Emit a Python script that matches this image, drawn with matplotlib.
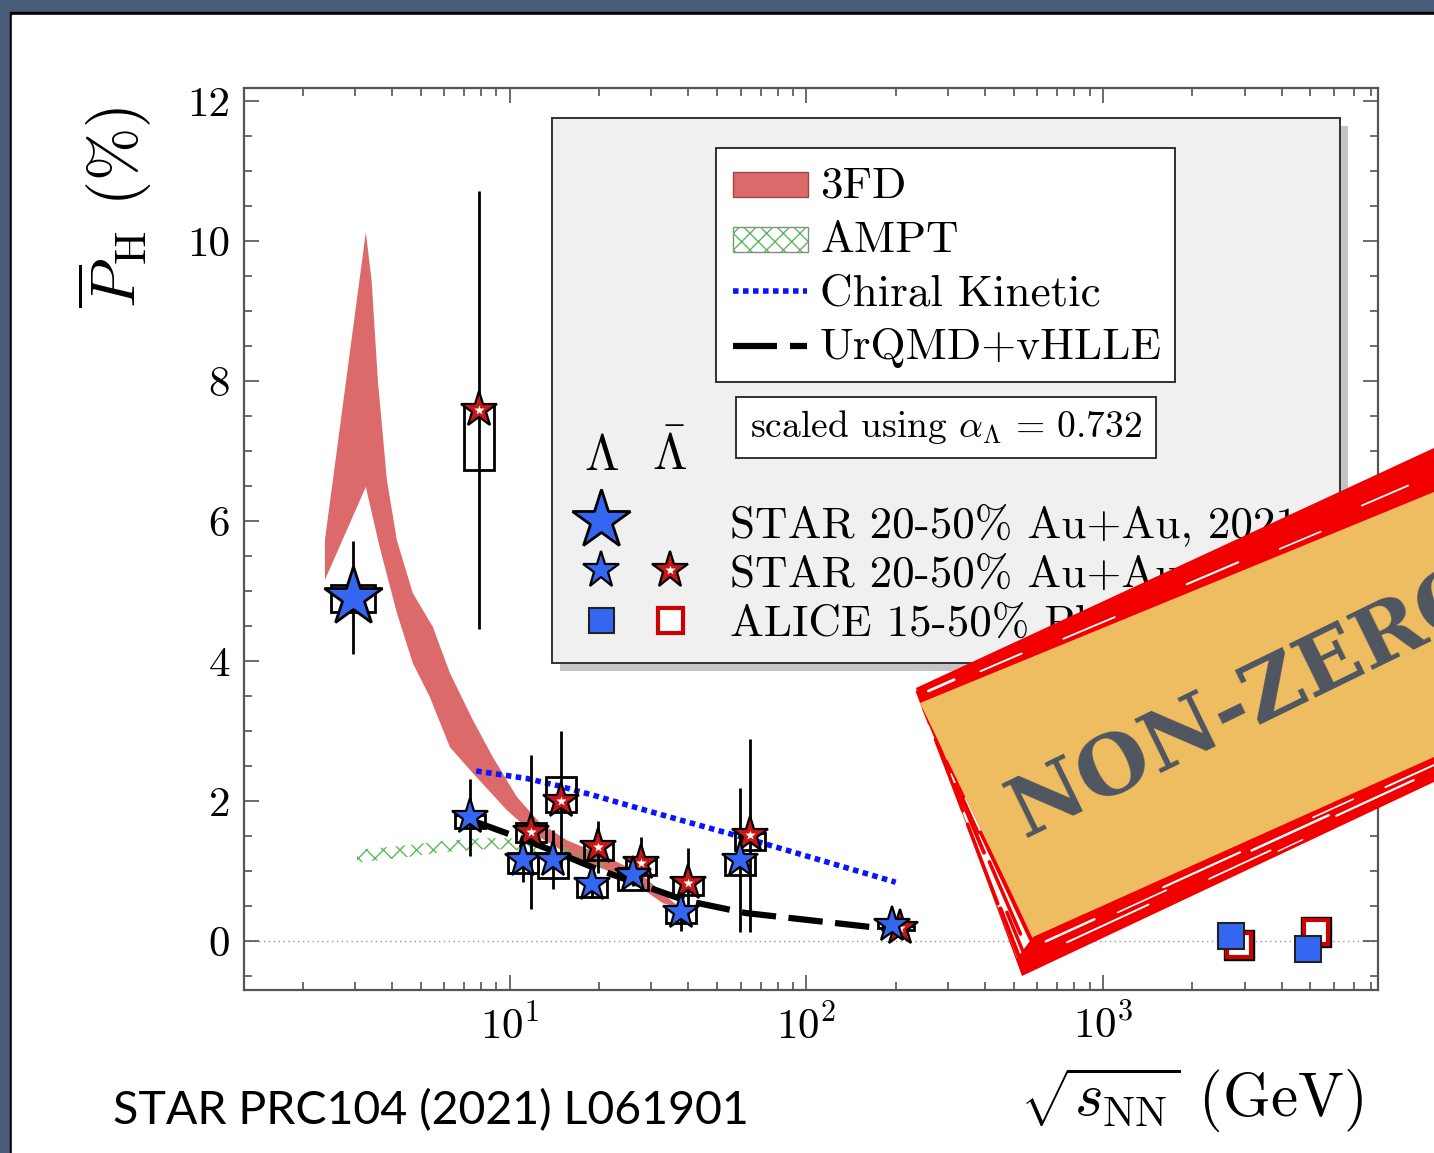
import numpy as np
import matplotlib
matplotlib.use('Agg')
import matplotlib.pyplot as plt
from matplotlib.patches import Rectangle, Polygon
from matplotlib.lines import Line2D
from matplotlib.ticker import FixedLocator, FixedFormatter, LogLocator, NullFormatter

plt.rcParams['mathtext.fontset'] = 'cm'
plt.rcParams['font.family'] = ['cmr10', 'DejaVu Serif']
plt.rcParams['hatch.linewidth'] = 1.0

# ---------------- data ----------------
# 3FD band (upper and lower edges)
fd_up_x = [2.38, 3.27, 3.42, 3.59, 3.85, 4.16, 4.71, 5.50, 6.28, 7.50, 8.76, 10.56, 12.62, 15.57, 21.24, 27.44, 36.6]
fd_up_y = [5.73, 10.13, 9.44, 8.01, 6.59, 5.73, 4.97, 4.49, 3.83, 3.16, 2.63, 2.06, 1.69, 1.44, 1.20, 0.97, 0.51]
fd_lo_x = [2.38, 3.27, 3.64, 4.16, 4.71, 5.37, 6.28, 7.50, 9.77, 11.96, 16.31, 21.24, 27.44, 32.8, 36.6]
fd_lo_y = [5.16, 6.49, 5.63, 4.69, 3.97, 3.49, 2.77, 2.40, 1.87, 1.54, 1.20, 1.01, 0.77, 0.54, 0.49]

# AMPT band
ampt_x = [3.05, 4.5, 6.0, 8.0, 10.0, 13.0, 17.0, 22.0]
ampt_up = [1.30, 1.37, 1.43, 1.47, 1.47, 1.40, 1.30, 1.18]
ampt_lo = [1.12, 1.20, 1.27, 1.31, 1.31, 1.25, 1.13, 1.02]

# Chiral Kinetic
ck_x = [7.7, 11.5, 14.5, 19.6, 27, 39, 62.4, 200]
ck_y = [2.43, 2.32, 2.22, 2.07, 1.90, 1.71, 1.47, 0.84]

# UrQMD+vHLLE
uq_x = [7.7, 11.5, 14.5, 19.6, 27, 39, 62.4, 200]
uq_y = [1.70, 1.43, 1.26, 1.03, 0.82, 0.58, 0.40, 0.16]

# STAR 2021 (3 GeV, Lambda)
s21_x = [2.95]
s21_y = [4.91]
s21_err = [0.81]
s21_sys_lo = [0.21]
s21_sys_hi = [0.18]

# STAR BES Lambda
lam_x = [7.33, 11.06, 13.96, 18.9, 26.0, 37.8, 59.7, 195]
lam_y = [1.77, 1.16, 1.16, 0.81, 0.94, 0.41, 1.16, 0.23]
lam_err = [0.55, 0.32, 0.42, 0.20, 0.15, 0.27, 1.03, 0.06]
lam_sys_lo = [0.16, 0.19, 0.26, 0.18, 0.21, 0.15, 0.21, 0.04]
lam_sys_hi = [0.03, 0.10, 0.10, 0.09, 0.10, 0.08, 0.09, 0.04]

# STAR BES anti-Lambda
alam_x = [7.86, 11.76, 14.86, 19.9, 27.7, 39.9, 64.5, 206]
alam_y = [7.59, 1.56, 2.00, 1.34, 1.11, 0.83, 1.51, 0.19]
alam_err = [3.13, 1.10, 1.00, 0.37, 0.38, 0.50, 1.38, 0.06]
alam_sys_lo = [0.86, 0.15, 0.16, 0.18, 0.17, 0.17, 0.21, 0.03]
alam_sys_hi = [0.07, 0.13, 0.34, 0.06, 0.05, 0.07, 0.04, 0.03]

# ALICE
alice_lam_x = [2704, 4907]
alice_lam_y = [0.07, -0.11]
alice_alam_x = [2876, 5224]
alice_alam_y = [-0.06, 0.13]

ytick_vals = [0, 2, 4, 6, 8, 10, 12]
ytick_labels = ['0', '2', '4', '6', '8', '10', '12']
xtick_vals = [10, 100, 1000]
xtick_labels = [r'$10^{1}$', r'$10^{2}$', r'$10^{3}$']

legend_models = ['3FD', 'AMPT', 'Chiral Kinetic', 'UrQMD+vHLLE']
legend_data = ['STAR 20-50% Au+Au, 2021', 'STAR 20-50% Au+Au, 2018', 'ALICE 15-50% Pb+Pb']

BLUE = '#3566f2'
RED = '#cc1515'
BAND = '#dc6a6a'
GREEN = '#5cb85c'
STAMP_RED = '#f20000'

W, H = 1434, 1153
fig = plt.figure(figsize=(W / 100, H / 100), dpi=100, facecolor='#485c78')
fig.add_artist(Rectangle((10 / W, 0), 1, 1 - 12 / H, transform=fig.transFigure,
                         color='black', zorder=-6))
fig.add_artist(Rectangle((12 / W, 0), 1, 1 - 15 / H, transform=fig.transFigure,
                         color='white', zorder=-5))

ax = fig.add_axes([244 / W, 1 - 990 / H, 1134 / W, 902 / H])
ax.set_facecolor('white')
ax.set_xscale('log')
ax.set_xlim(1.27, 8450)
ax.set_ylim(-0.7, 12.19)

# 3FD band
poly_x = list(fd_up_x) + list(fd_lo_x[::-1])
poly_y = list(fd_up_y) + list(fd_lo_y[::-1])
ax.fill(poly_x, poly_y, color=BAND, lw=0, zorder=1)

# AMPT
ax.fill_between(ampt_x, ampt_lo, ampt_up, facecolor='none', edgecolor=GREEN,
                hatch='xx', lw=0, zorder=1.2)

# zero line
ax.axhline(0, color='#999999', lw=1.0, ls=(0, (1, 2.5)), zorder=0.8)

# model lines
ax.plot(uq_x, uq_y, color='black', lw=4.5, ls=(0, (5.5, 2)), dash_capstyle='butt', zorder=2.5)
ax.plot(ck_x, ck_y, color='#0a14ff', lw=4.0, ls=(0, (1, 0.8)), dash_capstyle='butt', zorder=2.6)


def sys_boxes(xs, ys, lo, hi, f):
    for x, y, l, h in zip(xs, ys, lo, hi):
        ax.add_patch(Rectangle((x / f, y - l), x * f - x / f, l + h, fill=False,
                               ec='black', lw=2.0, zorder=3))


sys_boxes(s21_x, s21_y, s21_sys_lo, s21_sys_hi, 10 ** 0.074)
sys_boxes(lam_x, lam_y, lam_sys_lo, lam_sys_hi, 10 ** 0.05)
sys_boxes(alam_x, alam_y, alam_sys_lo, alam_sys_hi, 10 ** 0.05)

for xs, ys, es in [(s21_x, s21_y, s21_err), (lam_x, lam_y, lam_err), (alam_x, alam_y, alam_err)]:
    ax.errorbar(xs, ys, yerr=es, fmt='none', ecolor='black', elinewidth=2.0, capsize=0, zorder=3.2)

# ALICE squares
ax.plot(alice_alam_x, alice_alam_y, ls='none', marker='s', ms=21, mfc='black', mec='black', zorder=3.5)
ax.plot(alice_alam_x, alice_alam_y, ls='none', marker='s', ms=17, mfc='white', mec='#cc0000', mew=3, zorder=3.6)
ax.plot(alice_lam_x, alice_lam_y, ls='none', marker='s', ms=19, mfc=BLUE, mec='#222222', mew=1.5, zorder=3.7)

# stars
ax.plot(alam_x, alam_y, ls='none', marker='*', ms=27, mfc=RED, mec='black', mew=1.6, zorder=4)
ax.plot(alam_x, alam_y, ls='none', marker='*', ms=7, mfc='white', mec='none', zorder=4.1)
ax.plot(lam_x, lam_y, ls='none', marker='*', ms=27, mfc=BLUE, mec='black', mew=1.6, zorder=4.2)
ax.plot(s21_x, s21_y, ls='none', marker='*', ms=44, mfc=BLUE, mec='black', mew=2.0, zorder=4.3)

# ticks
ax.yaxis.set_major_locator(FixedLocator(ytick_vals))
ax.yaxis.set_major_formatter(FixedFormatter(ytick_labels))
ax.yaxis.set_minor_locator(FixedLocator(np.arange(-0.5, 12.5, 0.5)))
ax.xaxis.set_major_locator(FixedLocator(xtick_vals))
ax.xaxis.set_major_formatter(FixedFormatter(xtick_labels))
ax.xaxis.set_minor_locator(LogLocator(base=10, subs=np.arange(2, 10), numticks=20))
ax.xaxis.set_minor_formatter(NullFormatter())
ax.tick_params(which='both', direction='in', top=True, right=True, color='#444444', width=1.1)
ax.tick_params(which='major', length=11, labelsize=31, pad=10)
ax.tick_params(which='minor', length=5.5)
for sp in ax.spines.values():
    sp.set_color('#555555')
    sp.set_linewidth(1.6)

# ---------------- overlay in pixel coordinates ----------------
ov = fig.add_axes([0, 0, 1, 1], zorder=10)
ov.set_xlim(0, W)
ov.set_ylim(H, 0)
ov.axis('off')
ov.patch.set_alpha(0)

# axis labels
ov.text(115, 207, r'$\overline{P}_{\rm H}$ (%)', rotation=90, ha='center', va='center', fontsize=46)
ov.text(1192, 1100, r'$\sqrt{s_{\rm NN}}$ (GeV)', ha='center', va='center', fontsize=44)
ov.text(113, 1124, 'STAR PRC104 (2021) L061901', fontfamily='Lato', fontsize=33.5,
        ha='left', va='baseline', color='black')

# legend frame with shadow
ov.add_patch(Rectangle((560, 126), 788, 545, color='#c4c4c4', lw=0))
ov.add_patch(Rectangle((552, 118), 788, 545, fc='#f0f0f0', ec='#333333', lw=1.4))
ov.add_patch(Rectangle((716, 148), 459, 234, fc='white', ec='#222222', lw=1.3))

# model legend entries
ov.add_patch(Rectangle((733, 172), 75, 25, fc=BAND, ec='#a04545', lw=1.0))
ov.add_patch(Rectangle((733, 227), 75, 25, fc='white', ec='#888888', lw=1.0))
ov.add_patch(Rectangle((733, 227), 75, 25, fc='none', ec=GREEN, hatch='xx', lw=0))
ov.add_line(Line2D([733, 807], [291, 291], color='#0a14ff', lw=4.0, ls=(0, (1, 0.8)),
                   dash_capstyle='butt'))
ov.add_line(Line2D([733, 777], [346, 346], color='black', lw=4.5, solid_capstyle='butt'))
ov.add_line(Line2D([790, 807], [346, 346], color='black', lw=4.5, solid_capstyle='butt'))
for lab, yb in zip(legend_models, [197, 252, 305, 359]):
    ov.text(820, yb, lab, fontsize=32.5, ha='left', va='baseline')

ov.add_patch(Rectangle((736, 397), 420, 61, fc='white', ec='#222222', lw=1.3))
ov.text(946, 427, r'scaled using $\alpha_\Lambda\,=\,0.732$', fontsize=27, ha='center', va='center')

ov.text(601, 470, r'$\Lambda$', fontsize=36, ha='center', va='baseline')
ov.text(670, 470, r'$\bar{\Lambda}$', fontsize=36, ha='center', va='baseline')

ov.plot(601, 520, ls='none', marker='*', ms=44, mfc=BLUE, mec='black', mew=2.0)
ov.plot(601, 570, ls='none', marker='*', ms=28, mfc=BLUE, mec='black', mew=1.6)
ov.plot(670, 570, ls='none', marker='*', ms=28, mfc=RED, mec='black', mew=1.6)
ov.plot(670, 570, ls='none', marker='*', ms=7, mfc='white', mec='none')
ov.plot(601, 620, ls='none', marker='s', ms=18, mfc=BLUE, mec='#222222', mew=1.5)
ov.plot(670, 620, ls='none', marker='s', ms=18, mfc='white', mec='#cc0000', mew=3)
for lab, yb in zip(legend_data, [537, 586, 636]):
    ov.text(730, yb, lab, fontsize=32.5, ha='left', va='baseline')

# ---------------- stamp ----------------
outer = [(916, 688), (1434, 448), (1434, 782), (1022, 976)]
inner = [(920, 703), (1434, 492), (1434, 757), (1033, 937)]
ov.add_patch(Polygon(outer, closed=True, fc=STAMP_RED, ec='none', zorder=20))
# white gap on the left edge with thin red streaks
ov.add_patch(Polygon([(917, 691), inner[0], inner[3], (1017, 958)], closed=True,
                     fc='white', ec='none', zorder=20.2))


def seg_on_edges(a0, a1, b0, b1, t0, t1, s):
    a0, a1, b0, b1 = map(np.array, (a0, a1, b0, b1))
    pa = (a0 + t0 * (a1 - a0)) * (1 - s) + (b0 + t0 * (b1 - b0)) * s
    pb = (a0 + t1 * (a1 - a0)) * (1 - s) + (b0 + t1 * (b1 - b0)) * s
    return [pa[0], pb[0]], [pa[1], pb[1]]


left_red = [(0.0, 0.12, 0.05, 2.0), (0.18, 0.45, 0.08, 2.4), (0.50, 0.80, 0.06, 2.6),
            (0.82, 1.0, 0.10, 3.0), (0.05, 0.30, 0.50, 2.0), (0.35, 0.62, 0.45, 2.8),
            (0.66, 0.95, 0.55, 2.6), (0.25, 0.40, 0.85, 2.0), (0.55, 1.0, 0.88, 3.0),
            (0.40, 0.55, 0.70, 1.6), (0.85, 1.0, 0.35, 2.5)]
for t0, t1, s, lw in left_red:
    xs, ys = seg_on_edges((917, 691), (1017, 958), inner[0], inner[3], t0, t1, s)
    ov.add_line(Line2D(xs, ys, color=STAMP_RED, lw=lw, solid_capstyle='round', zorder=20.4))

ov.add_patch(Polygon(inner, closed=True, fc='#eebc61', ec='none', zorder=21))

bottom_white = [(0.04, 0.16, 0.30, 1.8), (0.10, 0.30, 0.62, 1.4), (0.22, 0.34, 0.42, 1.2),
                (0.33, 0.52, 0.28, 1.6), (0.45, 0.60, 0.70, 1.3), (0.55, 0.74, 0.40, 1.8),
                (0.70, 0.80, 0.22, 1.2), (0.76, 0.95, 0.55, 1.6), (0.88, 1.0, 0.32, 1.4),
                (0.62, 0.68, 0.85, 1.0)]
for t0, t1, s, lw in bottom_white:
    xs, ys = seg_on_edges(inner[3], inner[2], outer[3], outer[2], t0, t1, s)
    ov.add_line(Line2D(xs, ys, color='white', lw=lw, solid_capstyle='round', zorder=22))

top_white = [(0.02, 0.07, 0.5, 2.0), (0.12, 0.20, 0.35, 1.4), (0.28, 0.38, 0.22, 1.3),
             (0.52, 0.62, 0.30, 1.5), (0.70, 0.78, 0.18, 1.2), (0.86, 0.95, 0.40, 1.3)]
for t0, t1, s, lw in top_white:
    xs, ys = seg_on_edges(inner[0], inner[1], outer[0], outer[1], t0, t1, s)
    ov.add_line(Line2D(xs, ys, color='white', lw=lw, solid_capstyle='round', zorder=22))

ov.text(1024, 838, 'NON-ZERO', rotation=26, rotation_mode='anchor', ha='left', va='baseline',
        fontsize=60, fontfamily='DejaVu Serif', fontweight='bold', color='#4f5660', zorder=23)

fig.savefig('out.png', dpi=100, facecolor=fig.get_facecolor())
